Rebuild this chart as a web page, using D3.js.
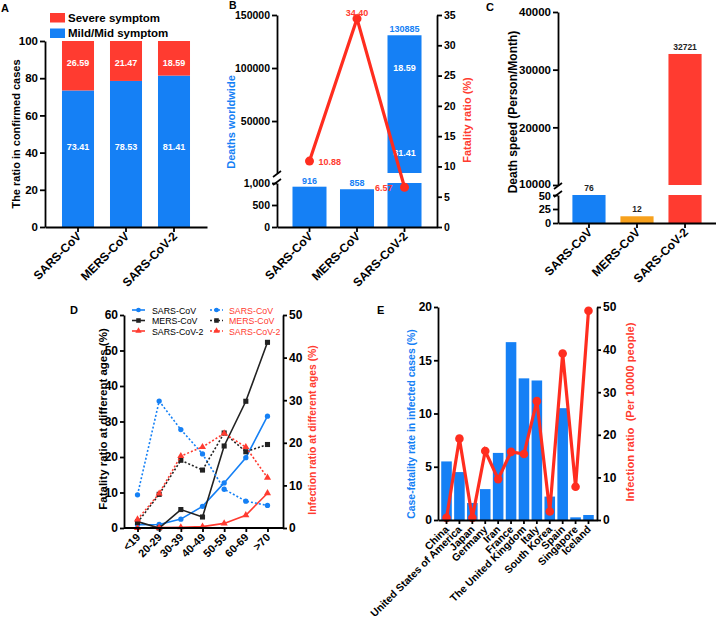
<!DOCTYPE html>
<html><head><meta charset="utf-8">
<script src="https://cdn.jsdelivr.net/npm/d3@7"></script>
<style>
body{margin:0;background:#fff;}
svg{display:block;}
</style></head><body>
<svg id="c" width="716" height="618"></svg>
<script>
// ---------- data ----------
const virusCats = ["SARS-CoV", "MERS-CoV", "SARS-CoV-2"];
const severePct = [26.59, 21.47, 18.59];
const mildPct = [73.41, 78.53, 81.41];
const deaths = [916, 858, 130885];
const fatality = [10.88, 34.40, 6.57];
const deathSpeed = [76, 12, 32721];
const ageGroups = ["<19", "20-29", "30-39", "40-49", "50-59", "60-69", ">70"];
const fatalSARS = [0.9, 1.0, 2.5, 6.1, 12.7, 19.8, 31.5];
const fatalMERS = [1.8, 0, 5.2, 3.1, 23.1, 35.7, 52.3];
const fatalCoV2 = [0, 0.1, 0.2, 0.4, 1.3, 3.6, 9.8];
const infSARS = [7.8, 29.8, 23.1, 17.4, 9.1, 6.3, 5.3];
const infMERS = [1.3, 7.9, 15.9, 13.6, 22.3, 17.9, 19.6];
const infCoV2 = [2.0, 8.1, 16.9, 19.0, 22.2, 19.0, 11.8];
const countries = ["China", "United States of America", "Japan", "Germany", "Iran", "France",
  "The United Kingdom", "Italy", "South Korea", "Spain", "Singapore", "Iceland"];
const caseFatality = [5.5, 4.5, 1.6, 2.9, 6.3, 16.7, 13.3, 13.1, 2.2, 10.5, 0.25, 0.47];
const infectionPer10k = [0.5, 19.1, 0.5, 16.2, 9.6, 16.0, 15.5, 27.9, 2.0, 39.1, 7.8, 49.1];

// ---------- helpers ----------
const svg = d3.select("#c");
svg.append("rect").attr("width", 716).attr("height", 618).attr("fill", "#fff");
const BLUE = "#1580f5", RED = "#ff3b30", ORANGE = "#f7a11d", LRED = "#ff2d1f", BLACK = "#222";
const FONT = '"Liberation Sans", Arial, Helvetica, sans-serif';

function styleAxis(g, fs) {
  g.attr("font-family", FONT).attr("font-size", fs).attr("font-weight", "bold");
  g.select(".domain").attr("stroke", "#000").attr("stroke-width", 1.8);
  g.selectAll(".tick line").attr("stroke", "#000").attr("stroke-width", 1.8);
  g.selectAll(".tick text").attr("fill", "#000");
  return g;
}
function rotateLabels(g, dx, dy) {
  g.selectAll(".tick text").attr("x", 0).attr("y", 0).attr("dy", 0)
    .attr("text-anchor", "end")
    .attr("transform", `translate(${dx},${dy}) rotate(-45)`);
}
function vtitle(x, y, text, fs, color) {
  svg.append("text").attr("transform", `translate(${x},${y}) rotate(-90)`)
    .attr("text-anchor", "middle").attr("font-family", FONT).attr("font-size", fs)
    .attr("font-weight", "bold").attr("fill", color).text(text);
}
function label(x, y, t, fs, color, anchor) {
  return svg.append("text").attr("x", x).attr("y", y).attr("font-family", FONT)
    .attr("font-size", fs).attr("font-weight", "bold").attr("fill", color)
    .attr("text-anchor", anchor || "start").text(t);
}
function breakMark(x, y) {
  svg.append("line").attr("x1", x - 4).attr("y1", y + 3).attr("x2", x + 4).attr("y2", y - 3)
    .attr("stroke", "#000").attr("stroke-width", 1.6);
}

// ---------- Panel A ----------
label(1, 12, "A", 11, "#000");
const xA = d3.scaleBand().domain(virusCats).range([45, 207]).paddingInner(0.333).paddingOuter(0.354);
const yA = d3.scaleLinear().domain([0, 100]).range([227, 41]);
const gA = svg.append("g");
gA.selectAll("rect.mild").data(virusCats).join("rect").attr("class", "mild")
  .attr("x", d => xA(d)).attr("width", xA.bandwidth())
  .attr("y", (d, i) => yA(mildPct[i])).attr("height", (d, i) => yA(0) - yA(mildPct[i]))
  .attr("fill", BLUE);
gA.selectAll("rect.sev").data(virusCats).join("rect").attr("class", "sev")
  .attr("x", d => xA(d)).attr("width", xA.bandwidth())
  .attr("y", (d, i) => yA(mildPct[i] + severePct[i]))
  .attr("height", (d, i) => yA(mildPct[i]) - yA(mildPct[i] + severePct[i]))
  .attr("fill", RED);
virusCats.forEach((d, i) => {
  const cx = xA(d) + xA.bandwidth() / 2;
  label(cx, yA(88) + 3, severePct[i].toFixed(2), 9, "#fff", "middle");
  label(cx, yA(43) + 3, mildPct[i].toFixed(2), 9, "#fff", "middle");
});
styleAxis(svg.append("g").attr("transform", "translate(45,0)")
  .call(d3.axisLeft(yA).tickValues([0, 20, 40, 60, 80, 100]).tickSize(5).tickPadding(2).tickSizeOuter(0)), 11.5);
const axA = svg.append("g").attr("transform", "translate(0,227)")
  .call(d3.axisBottom(xA).tickSize(5).tickSizeOuter(0));
styleAxis(axA, 12); rotateLabels(axA, 4, 10);
vtitle(20, 134, "The ratio in confirmed cases", 11, "#000");
// legend
svg.append("rect").attr("x", 50).attr("y", 13).attr("width", 15).attr("height", 9.5).attr("fill", RED);
svg.append("rect").attr("x", 50).attr("y", 28.5).attr("width", 15).attr("height", 9.5).attr("fill", BLUE);
label(68, 22, "Severe symptom", 11.5, "#000");
label(68, 37, "Mild/Mid symptom", 11.5, "#000");

// ---------- Panel B ----------
label(229, 9, "B", 10.5, "#000");
const xB = d3.scaleBand().domain(virusCats).range([277, 437]).paddingInner(0.284).paddingOuter(0.326);
const yBlow = d3.scaleLinear().domain([0, 1000]).range([227, 183]);
const yBhigh = d3.scaleLinear().domain([1000, 150000]).range([173, 15]);
const yBr = d3.scaleLinear().domain([0, 35]).range([227, 15]);
const gB = svg.append("g");
gB.selectAll("rect.lo").data(virusCats).join("rect").attr("class", "lo")
  .attr("x", d => xB(d)).attr("width", xB.bandwidth())
  .attr("y", (d, i) => yBlow(Math.min(deaths[i], 1000)))
  .attr("height", (d, i) => yBlow(0) - yBlow(Math.min(deaths[i], 1000)))
  .attr("fill", BLUE);
gB.selectAll("rect.hi").data(virusCats.filter((d, i) => deaths[i] > 1000)).join("rect").attr("class", "hi")
  .attr("x", d => xB(d)).attr("width", xB.bandwidth())
  .attr("y", d => yBhigh(deaths[virusCats.indexOf(d)]))
  .attr("height", d => yBhigh(1000) - yBhigh(deaths[virusCats.indexOf(d)]))
  .attr("fill", BLUE);
virusCats.forEach((d, i) => {
  const cx = xB(d) + xB.bandwidth() / 2;
  const top = deaths[i] > 1000 ? yBhigh(deaths[i]) : yBlow(deaths[i]);
  label(cx, top - 3, String(deaths[i]), 9, BLUE, "middle");
});
{
  const cx = xB("SARS-CoV-2") + xB.bandwidth() / 2;
  label(cx, yBhigh(100000) + 3, severePct[2].toFixed(2), 9, "#fff", "middle");
  label(cx, yBhigh(20000) + 3, mildPct[2].toFixed(2), 9, "#fff", "middle");
}
const axBlo = svg.append("g").attr("transform", "translate(277,0)")
  .call(d3.axisLeft(yBlow).tickValues([0, 500, 1000]).tickSize(5).tickPadding(2).tickSizeOuter(0));
styleAxis(axBlo, 10.5);
const axBhi = svg.append("g").attr("transform", "translate(277,0)")
  .call(d3.axisLeft(yBhigh).tickValues([50000, 100000, 150000]).tickFormat(d3.format("d")).tickSize(5).tickPadding(2).tickSizeOuter(0));
styleAxis(axBhi, 10.5);
breakMark(277, 174); breakMark(277, 182);
const axBr = svg.append("g").attr("transform", "translate(437,0)")
  .call(d3.axisRight(yBr).tickValues(d3.range(0, 36, 5)).tickSize(5).tickPadding(2).tickSizeOuter(0));
styleAxis(axBr, 10.5);
const axBx = svg.append("g").attr("transform", "translate(0,227)")
  .call(d3.axisBottom(xB).tickSize(5).tickSizeOuter(0));
styleAxis(axBx, 12); rotateLabels(axBx, 4, 10);
// fatality line
const ptsB = virusCats.map((d, i) => [xB(d) + xB.bandwidth() / 2, yBr(fatality[i])]);
svg.append("path").attr("d", d3.line()(ptsB)).attr("fill", "none").attr("stroke", LRED).attr("stroke-width", 3.2);
svg.selectAll("circle.fb").data(ptsB).join("circle").attr("class", "fb")
  .attr("cx", d => d[0]).attr("cy", d => d[1]).attr("r", 4.5).attr("fill", LRED);
label(ptsB[0][0] + 9, ptsB[0][1] + 3.5, fatality[0].toFixed(2), 9, RED, "start");
label(ptsB[1][0], ptsB[1][1] - 3, fatality[1].toFixed(2), 9, RED, "middle");
label(ptsB[2][0] - 12, ptsB[2][1] + 3.5, fatality[2].toFixed(2), 9, RED, "end");
vtitle(235, 122, "Deaths worldwide", 11, BLUE);
vtitle(471, 120, "Fatality ratio (%)", 11, RED);

// ---------- Panel C ----------
label(486, 11, "C", 11, "#000");
const xC = d3.scaleBand().domain(virusCats).range([558, 716]).paddingInner(0.31).paddingOuter(0.3);
const yClow = d3.scaleLinear().domain([0, 50]).range([223, 195]);
const yChigh = d3.scaleLinear().domain([10000, 40000]).range([185, 12]);
const cColors = [BLUE, ORANGE, RED];
const gC = svg.append("g");
gC.selectAll("rect.lo").data(virusCats).join("rect").attr("class", "lo")
  .attr("x", d => xC(d)).attr("width", xC.bandwidth())
  .attr("y", (d, i) => yClow(Math.min(deathSpeed[i], 50)))
  .attr("height", (d, i) => yClow(0) - yClow(Math.min(deathSpeed[i], 50)))
  .attr("fill", (d, i) => cColors[i]);
gC.selectAll("rect.hi").data(virusCats.filter((d, i) => deathSpeed[i] > 10000)).join("rect").attr("class", "hi")
  .attr("x", d => xC(d)).attr("width", xC.bandwidth())
  .attr("y", d => yChigh(deathSpeed[virusCats.indexOf(d)]))
  .attr("height", d => yChigh(10000) - yChigh(deathSpeed[virusCats.indexOf(d)]))
  .attr("fill", d => cColors[virusCats.indexOf(d)]);
virusCats.forEach((d, i) => {
  const cx = xC(d) + xC.bandwidth() / 2;
  const top = deathSpeed[i] > 10000 ? yChigh(deathSpeed[i]) : yClow(Math.min(deathSpeed[i], 50));
  label(cx, top - 4, String(deathSpeed[i]), 8.5, "#222", "middle");
});
const axClo = svg.append("g").attr("transform", "translate(558,0)")
  .call(d3.axisLeft(yClow).tickValues([0, 25, 50]).tickSize(5).tickPadding(2).tickSizeOuter(0));
styleAxis(axClo, 11);
const axChi = svg.append("g").attr("transform", "translate(558,0)")
  .call(d3.axisLeft(yChigh).tickValues([10000, 20000, 30000, 40000]).tickFormat(d3.format("d")).tickSize(5).tickPadding(2).tickSizeOuter(0));
styleAxis(axChi, 11.5);
axChi.selectAll(".tick text").filter(d => d === 10000).attr("dy", "0.2em");
axClo.selectAll(".tick text").filter(d => d === 50).attr("dy", "0.45em");
breakMark(558, 186); breakMark(558, 194);
const axCx = svg.append("g").attr("transform", "translate(0,223)")
  .call(d3.axisBottom(xC).tickSize(5).tickSizeOuter(0));
styleAxis(axCx, 12); rotateLabels(axCx, 4, 10);
vtitle(517, 112, "Death speed (Person/Month)", 12, "#000");

// ---------- Panel D ----------
label(70, 314, "D", 11, "#000");
const xD = d3.scalePoint().domain(ageGroups).range([123, 282]).padding(0.67);
const yD = d3.scaleLinear().domain([0, 60]).range([528, 315]);
const yDr = d3.scaleLinear().domain([0, 50]).range([528, 315]);
const seriesD = [
  { name: "SARS-CoV", vals: fatalSARS, y: yD, color: BLUE, dash: null, sym: d3.symbolCircle, size: 22 },
  { name: "MERS-CoV", vals: fatalMERS, y: yD, color: BLACK, dash: null, sym: d3.symbolSquare, size: 26 },
  { name: "SARS-CoV-2", vals: fatalCoV2, y: yD, color: RED, dash: null, sym: d3.symbolTriangle, size: 22 },
  { name: "SARS-CoV", vals: infSARS, y: yDr, color: BLUE, dash: "2,2", sym: d3.symbolCircle, size: 22 },
  { name: "MERS-CoV", vals: infMERS, y: yDr, color: BLACK, dash: "2,2", sym: d3.symbolSquare, size: 26 },
  { name: "SARS-CoV-2", vals: infCoV2, y: yDr, color: RED, dash: "2,2", sym: d3.symbolTriangle, size: 22 }
];
const gD = svg.append("g");
seriesD.forEach(s => {
  const pts = ageGroups.map((a, i) => [xD(a), s.y(s.vals[i])]);
  gD.append("path").attr("d", d3.line()(pts)).attr("fill", "none").attr("stroke", s.color)
    .attr("stroke-width", 1.6).attr("stroke-dasharray", s.dash);
  gD.selectAll(null).data(pts).join("path")
    .attr("transform", p => `translate(${p[0]},${p[1]})`)
    .attr("d", d3.symbol(s.sym, s.size)).attr("fill", s.color);
});
const axDl = svg.append("g").attr("transform", "translate(124,0)")
  .call(d3.axisLeft(yD).tickValues(d3.range(0, 61, 10)).tickSize(4).tickPadding(2).tickSizeOuter(0));
styleAxis(axDl, 12);
const axDr = svg.append("g").attr("transform", "translate(283,0)")
  .call(d3.axisRight(yDr).tickValues(d3.range(0, 51, 10)).tickSize(4).tickPadding(2).tickSizeOuter(0));
styleAxis(axDr, 12);
const axDx = svg.append("g").attr("transform", "translate(0,528)")
  .call(d3.axisBottom(xD).tickSize(4).tickSizeOuter(0));
axDx.select(".domain").attr("d", "M124,0H283");
styleAxis(axDx, 11); rotateLabels(axDx, 3, 10);
vtitle(107, 419, "Fatality ratio at different ages (%)", 11.5, "#000");
vtitle(316, 430, "Infection ratio at different ages (%)", 10.3, RED);
// legend
seriesD.forEach((s, i) => {
  const col = i < 3 ? 0 : 1;
  const row = i % 3;
  const lx = col === 0 ? 132 : 210;
  const ly = 313 + row * 10.5 - 3;
  svg.append("line").attr("x1", lx).attr("x2", lx + 13).attr("y1", ly).attr("y2", ly)
    .attr("stroke", s.color).attr("stroke-width", 1.6).attr("stroke-dasharray", s.dash);
  svg.append("path").attr("transform", `translate(${lx + 6.5},${ly})`)
    .attr("d", d3.symbol(s.sym, s.size * 0.8)).attr("fill", s.color);
  svg.append("text").attr("x", col === 0 ? 152 : 229).attr("y", ly + 3.5)
    .attr("font-family", FONT).attr("font-size", 8.8)
    .attr("fill", col === 0 ? "#000" : RED).text(s.name);
});

// ---------- Panel E ----------
label(377, 314, "E", 11, "#000");
const xE = d3.scaleBand().domain(countries).range([438, 597]).paddingInner(0.18).paddingOuter(0.25);
const yE = d3.scaleLinear().domain([0, 20]).range([520, 307]);
const yEr = d3.scaleLinear().domain([0, 50]).range([520, 307]);
svg.append("g").selectAll("rect").data(countries).join("rect")
  .attr("x", d => xE(d)).attr("width", xE.bandwidth())
  .attr("y", (d, i) => yE(caseFatality[i])).attr("height", (d, i) => yE(0) - yE(caseFatality[i]))
  .attr("fill", BLUE);
const ptsE = countries.map((c, i) => [xE(c) + xE.bandwidth() / 2, yEr(infectionPer10k[i])]);
svg.append("path").attr("d", d3.line()(ptsE)).attr("fill", "none").attr("stroke", LRED).attr("stroke-width", 3.2);
svg.selectAll("circle.fe").data(ptsE).join("circle").attr("class", "fe")
  .attr("cx", d => d[0]).attr("cy", d => d[1]).attr("r", 4.3).attr("fill", LRED);
const axEl = svg.append("g").attr("transform", "translate(438,0)")
  .call(d3.axisLeft(yE).tickValues(d3.range(0, 21, 5)).tickSize(4).tickPadding(2).tickSizeOuter(0));
styleAxis(axEl, 12);
const axEr = svg.append("g").attr("transform", "translate(597,0)")
  .call(d3.axisRight(yEr).tickValues(d3.range(0, 51, 10)).tickSize(4).tickPadding(2).tickSizeOuter(0));
styleAxis(axEr, 12);
const axEx = svg.append("g").attr("transform", "translate(0,520)")
  .call(d3.axisBottom(xE).tickSize(4).tickSizeOuter(0));
styleAxis(axEx, 10.5); rotateLabels(axEx, 3, 10);
vtitle(415, 424, "Case-fatality rate in infected cases (%)", 10.4, BLUE);
vtitle(634, 412, "Infection ratio  (Per 10000 people)", 11.2, RED);
svg.selectAll("text").attr("xml:space", "preserve");
</script>
</body></html>
